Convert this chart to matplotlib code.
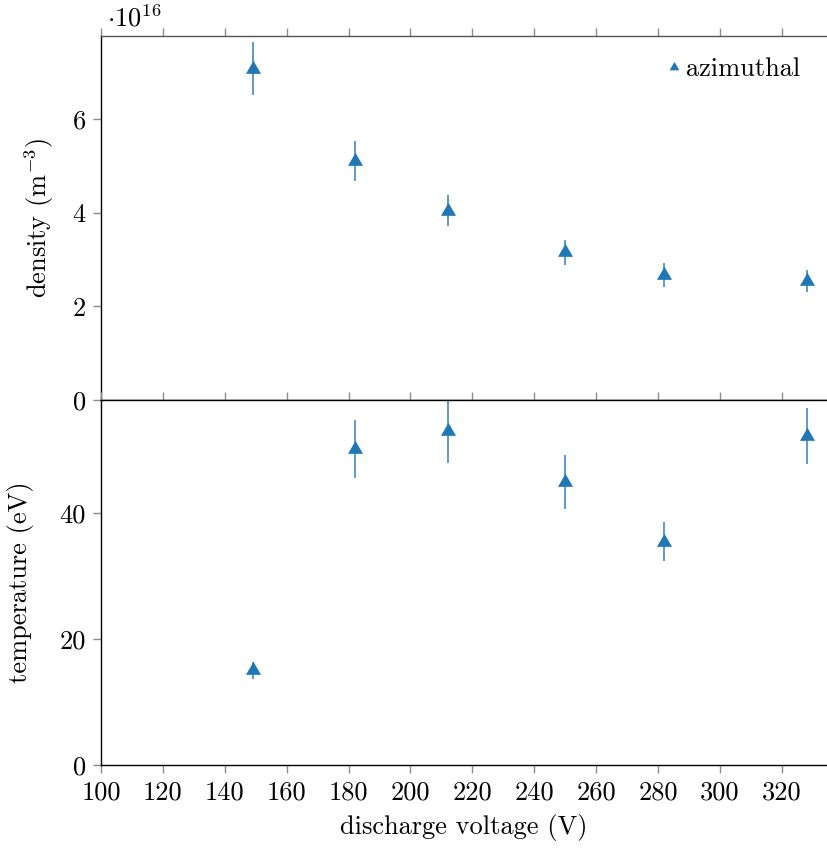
import matplotlib
matplotlib.use("Agg")
import matplotlib.pyplot as plt
from matplotlib.path import Path

# fuente tipo LaTeX (Computer Modern incluida en matplotlib)
plt.rcParams['font.family'] = 'cmr10'
plt.rcParams['mathtext.fontset'] = 'cm'
plt.rcParams['axes.unicode_minus'] = False
plt.rcParams['axes.formatter.use_mathtext'] = True

# datos
voltaje = [149, 182, 212, 250, 282, 328]
densidad = [7.07e16, 5.10e16, 4.04e16, 3.15e16, 2.67e16, 2.54e16]
densidad_err = [0.57e16, 0.42e16, 0.335e16, 0.26e16, 0.26e16, 0.23e16]
temperatura = [15.0, 50.1, 53.0, 44.9, 35.4, 52.2]
temperatura_err = [1.4, 4.65, 5.1, 4.3, 3.1, 4.4]

xticks = [100, 120, 140, 160, 180, 200, 220, 240, 260, 280, 300, 320]
yticks_dens = [0, 2, 4, 6]
yticks_temp = [0, 20, 40]

azul = '#1f77b4'
azul_barra = '#4f93c9'
gris = '#8c8c8c'

# triángulo centrado en su baricentro (como pgfplots)
triangulo = Path([(0, 1), (-0.866, -0.5), (0.866, -0.5), (0, 1)],
                 [Path.MOVETO, Path.LINETO, Path.LINETO, Path.CLOSEPOLY])

fig = plt.figure(figsize=(8.27, 8.49), dpi=100)
W, H = 827, 849
izq, der = 101 / W, 1.0
ax1 = fig.add_axes([izq, 1 - 400 / H, der - izq, (400 - 36) / H])
ax2 = fig.add_axes([izq, 1 - 765 / H, der - izq, (765 - 400) / H], sharex=ax1)

fs = 19

# panel superior: densidad
ax1.errorbar(voltaje, [d / 1e16 for d in densidad], yerr=[e / 1e16 for e in densidad_err],
             fmt='none', ecolor=azul_barra, elinewidth=1.3)
ax1.plot(voltaje, [d / 1e16 for d in densidad], linestyle='none', marker=triangulo,
         markersize=12.5, color=azul, markeredgewidth=0, label='azimuthal')
ax1.set_ylim(0, 7.77)
ax1.set_yticks(yticks_dens)
ax1.set_yticklabels([str(t) for t in yticks_dens])
ax1.set_ylabel(r'density (m$^{-3}$)', fontsize=fs)
ax1.text(0.008, 1.012, r'$\cdot 10^{16}$', transform=ax1.transAxes, fontsize=fs,
         ha='left', va='bottom')
ax1.legend(loc='upper right', bbox_to_anchor=(0.9835, 0.981), frameon=False,
           fontsize=fs, handlelength=0.45, handletextpad=0.25, borderaxespad=0.25,
           borderpad=0.3, markerscale=0.65)

# panel inferior: temperatura
ax2.errorbar(voltaje, temperatura, yerr=temperatura_err, fmt='none',
             ecolor=azul_barra, elinewidth=1.3)
ax2.plot(voltaje, temperatura, linestyle='none', marker=triangulo,
         markersize=12.5, color=azul, markeredgewidth=0)
ax2.set_ylim(0, 57.9)
ax2.set_yticks(yticks_temp)
ax2.set_yticklabels([str(t) for t in yticks_temp])
ax2.set_ylabel('temperature (eV)', fontsize=fs)
ax2.set_xlabel('discharge voltage (V)', fontsize=fs, labelpad=7)

ax1.set_xlim(100, 334.6)
ax1.set_xticks(xticks)
ax2.set_xticklabels([str(t) for t in xticks])

for ax in (ax1, ax2):
    ax.spines['right'].set_visible(False)
    for s in ('left', 'top', 'bottom'):
        ax.spines[s].set_color('black')
        ax.spines[s].set_linewidth(1.0)
    ax.tick_params(axis='both', direction='out', length=6, width=1.0, color=gris,
                   labelsize=fs, pad=5)
    ax.tick_params(axis='x', top=True, bottom=True)
    ax.tick_params(axis='y', left=True, right=False)
ax1.spines['top'].set_color('#555555')
ax1.tick_params(axis='x', labelbottom=False)

ax1.yaxis.set_label_coords(-0.062, 0.5)
ax2.yaxis.set_label_coords(-0.092, 0.5)

fig.savefig('out.png', dpi=100)
